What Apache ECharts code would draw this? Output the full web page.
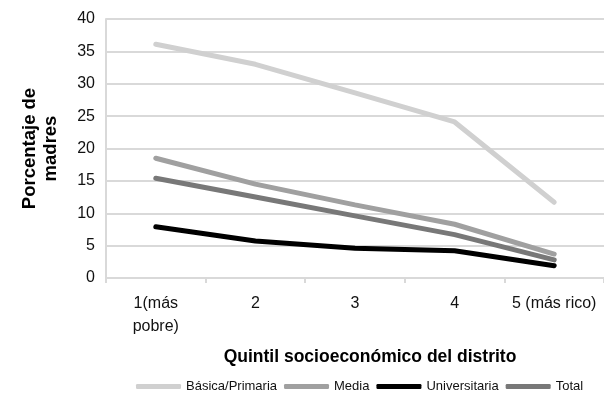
<!DOCTYPE html>
<html><head><meta charset="utf-8">
<script src="https://cdn.jsdelivr.net/npm/echarts@6/dist/echarts.min.js"></script>
<style>html,body{margin:0;padding:0;background:#fff}#c{width:604px;height:395px}</style>
</head><body><div id="c"></div>
<script>
const categories = ["1(más\npobre)", "2", "3", "4", "5 (más rico)"];
const basica = [36.1, 33.0, 28.6, 24.1, 11.7];
const media = [18.5, 14.5, 11.3, 8.3, 3.7];
const universitaria = [7.9, 5.7, 4.6, 4.2, 1.9];
const total = [15.4, 12.5, 9.6, 6.7, 2.8];
const yTicks = [0, 5, 10, 15, 20, 25, 30, 35, 40];

const font = 'Liberation Sans, Arial, sans-serif';
const chart = echarts.init(document.getElementById('c'), null, {renderer: 'canvas'});
function s(name, data, color) {
  return {name, type: 'line', data, symbol: 'none', smooth: false,
    lineStyle: {color, width: 5, cap: 'round'}, itemStyle: {color}};
}
chart.setOption({
  animation: false,
  textStyle: {fontFamily: font},
  grid: {left: 106, top: 19, width: 507, height: 259},
  legend: {
    left: 131, top: 375, itemWidth: 45, itemHeight: 5, itemGap: 7, icon: 'roundRect',
    textStyle: {fontSize: 13, color: '#111', fontFamily: font},
    data: ['Básica/Primaria', 'Media', 'Universitaria', 'Total']
  },
  xAxis: {
    type: 'category', data: categories, boundaryGap: true,
    name: 'Quintil socioeconómico del distrito', nameLocation: 'middle', nameGap: 70,
    nameTextStyle: {fontSize: 17.5, fontWeight: 'bold', color: '#000', fontFamily: font, padding: [0, 0, 0, 30]},
    axisLine: {lineStyle: {color: '#d9d9d9', width: 2}},
    axisTick: {show: true, length: 5, lineStyle: {color: '#d9d9d9', width: 2}},
    axisLabel: {interval: 0, fontSize: 16, color: '#111', margin: 14, lineHeight: 23, fontFamily: font}
  },
  yAxis: {
    type: 'value', min: yTicks[0], max: yTicks[yTicks.length - 1], interval: 5,
    name: 'Porcentaje de\nmadres', nameLocation: 'middle', nameGap: 45, nameRotate: 90,
    nameTextStyle: {fontSize: 18.5, fontWeight: 'bold', color: '#000', lineHeight: 21, fontFamily: font},
    axisLine: {show: true, lineStyle: {color: '#d9d9d9', width: 2}},
    axisTick: {show: false},
    splitLine: {lineStyle: {color: '#d9d9d9', width: 2}},
    axisLabel: {fontSize: 16, color: '#111', margin: 11, fontFamily: font}
  },
  series: [
    s('Básica/Primaria', basica, '#d0d0d0'),
    s('Media', media, '#a0a0a0'),
    s('Universitaria', universitaria, '#000000'),
    s('Total', total, '#787878')
  ]
});
</script></body></html>
